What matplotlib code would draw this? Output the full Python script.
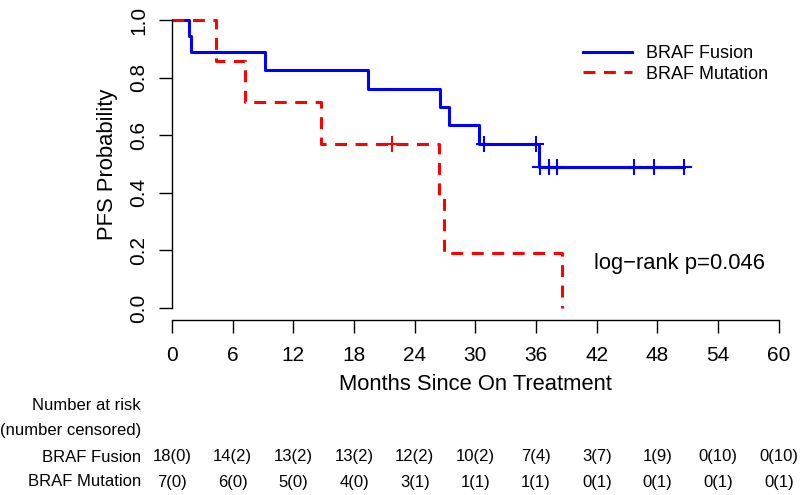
import matplotlib
matplotlib.use("Agg")
import matplotlib.pyplot as plt
import matplotlib.transforms as mtransforms
import numpy as np

plt.rcParams['font.family'] = ['Liberation Sans', 'DejaVu Sans']

# Kaplan-Meier steps
fusion_t = [0, 1.7, 1.85, 9.2, 19.4, 26.5, 27.4, 30.4, 36.3, 50.6]
fusion_s = [1.0, 0.944, 0.889, 0.825, 0.762, 0.698, 0.634, 0.571, 0.489, 0.489]
fusion_cens_t = [30.8, 36.0, 36.4, 37.25, 38.1, 45.65, 47.7, 50.6]
fusion_cens_s = [0.571, 0.571, 0.489, 0.489, 0.489, 0.489, 0.489, 0.489]

mut_t = [0, 4.35, 7.25, 14.75, 26.4, 26.9, 38.6]
mut_s = [1.0, 0.857, 0.714, 0.571, 0.381, 0.190, 0.0]
mut_cens_t = [21.8]
mut_cens_s = [0.571]

risk_times = [0, 6, 12, 18, 24, 30, 36, 42, 48, 54, 60]
fusion_risk = ["18(0)", "14(2)", "13(2)", "13(2)", "12(2)", "10(2)", "7(4)", "3(7)", "1(9)", "0(10)", "0(10)"]
mut_risk = ["7(0)", "6(0)", "5(0)", "4(0)", "3(1)", "1(1)", "1(1)", "0(1)", "0(1)", "0(1)", "0(1)"]

W, H = 800, 495
fig = plt.figure(figsize=(8, 4.95), dpi=100)
ax = fig.add_axes([172 / W, 1 - 319.5 / H, (794 - 172) / W, (319.5 - 8.5) / H])

blue = '#0000FF'
red = '#FF0000'

ax.step(fusion_t, fusion_s, where='post', color=blue, lw=2.2, label='BRAF Fusion')
ax.plot(fusion_cens_t, fusion_cens_s, ls='none', marker='+', ms=12, mew=1.5, color=blue)
ax.step(mut_t, mut_s, where='post', color=red, lw=2.2, dashes=(3.9, 2.8), label='BRAF Mutation')
ax.plot(mut_cens_t, mut_cens_s, ls='none', marker='+', ms=12, mew=1.5, color=red)

ax.set_xlim(0, 61.5)
ax.set_ylim(-0.04, 1.04)

for s in ['top', 'right']:
    ax.spines[s].set_visible(False)
ax.spines['left'].set_bounds(0, 1)
ax.spines['bottom'].set_bounds(0, 60)
ax.spines['left'].set_position(('data', 0))

ax.set_xticks(risk_times)
ax.set_xticklabels([str(t) for t in risk_times])
ax.set_yticks([0, 0.2, 0.4, 0.6, 0.8, 1.0])
ax.set_yticklabels(["0.0", "0.2", "0.4", "0.6", "0.8", "1.0"], rotation=90, va='center')
ax.tick_params(axis='both', direction='out', length=9.5, width=1, labelsize=15, colors='black')
ax.tick_params(axis='x', pad=9.5)
ax.tick_params(axis='y', pad=7.5)
for s in ['left', 'bottom']:
    ax.spines[s].set_linewidth(1)

fig.text(108 / W, 1 - 164 / H, 'PFS Probability', fontsize=15.8, rotation=90, ha='center', va='center')

leg = ax.legend(loc='upper left', bbox_to_anchor=(583 / W, 1 - 45 / H), bbox_transform=fig.transFigure,
                frameon=False, fontsize=13, handlelength=2.7, handletextpad=0.8, labelspacing=0.2,
                borderaxespad=0, borderpad=0)

fig.text(594 / W, 1 - 264 / H, 'log\u2212rank p=0.046', fontsize=15.8, ha='left', va='center')

fig.text(475.5 / W, 1 - 384 / H, 'Months Since On Treatment', fontsize=15.8, ha='center', va='center')

# number at risk table
tr = mtransforms.blended_transform_factory(ax.transData, fig.transFigure)
fig.text(141 / W, 1 - 405 / H, 'Number at risk', fontsize=12, ha='right', va='center')
fig.text(141 / W, 1 - 431 / H, '(number censored)', fontsize=12, ha='right', va='center')
fig.text(141 / W, 1 - 457 / H, 'BRAF Fusion', fontsize=12, ha='right', va='center')
fig.text(141 / W, 1 - 482 / H, 'BRAF Mutation', fontsize=12, ha='right', va='center')
for t, a, b in zip(risk_times, fusion_risk, mut_risk):
    ax.text(t, 1 - 457 / H, a, transform=tr, fontsize=12, ha='center', va='center', clip_on=False)
    ax.text(t, 1 - 482 / H, b, transform=tr, fontsize=12, ha='center', va='center', clip_on=False)

fig.savefig('out.png', dpi=100)
